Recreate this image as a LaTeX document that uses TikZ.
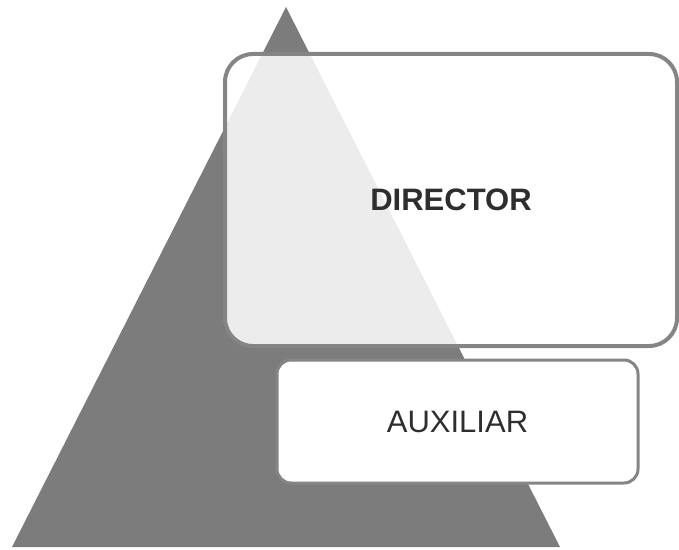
\documentclass[tikz,border=0pt]{standalone}
\usepackage{fontspec}
\setmainfont{Liberation Sans}
\definecolor{rock}{HTML}{7C7C7C}
\definecolor{rim}{HTML}{858585}
\definecolor{ink}{HTML}{2E2E2E}

\begin{document}
\begin{tikzpicture}[
  x=0.5pt, y=-0.5pt, line width=.45pt,
  rank/.style={draw=rim, fill=white, align=center, inner sep=0pt, text=ink,
    font=\fontsize{15.5}{18}\selectfont},
  top/.style={rank, line width=2pt, fill opacity=.86, text opacity=1,
    rounded corners=14pt, minimum width=226pt, minimum height=146pt},
  low/.style={rank, line width=1.5pt, rounded corners=7pt,
    minimum width=180.5pt, minimum height=61.5pt},
]
  \useasboundingbox (0,0) rectangle (679,550);

  % Pyramid corners, in picture pixels.
  \coordinate (apex) at (286,7);
  \coordinate (bl) at (12,547);
  \coordinate (br) at (560,547);
  \fill[rock] (apex) -- (bl) -- (br) -- cycle;

  % The two levels laid over the pyramid.
  \node[top] (dir) at (451,200) {\bfseries DIRECTOR};
  \node[low] (aux) at (457.5,421.5) {AUXILIAR};
\end{tikzpicture}
\end{document}
